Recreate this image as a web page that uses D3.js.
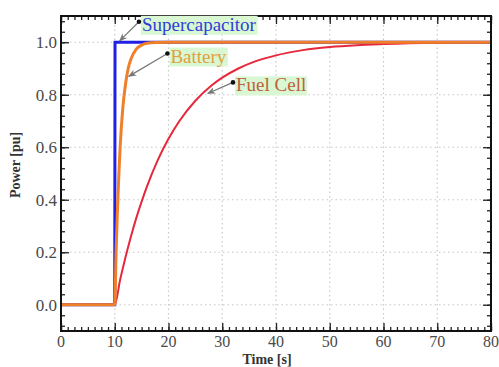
<!DOCTYPE html>
<meta charset="utf-8">
<style>
    body { margin: 0; background: #fff; }
    text { font-family: "Liberation Serif", "Times New Roman", serif; }
</style>
<body>
<script src="https://cdn.jsdelivr.net/npm/d3@7"></script>
<script>

    // values
    var xTicks = [0, 10, 20, 30, 40, 50, 60, 70, 80],
        yTicks = [0.0, 0.2, 0.4, 0.6, 0.8, 1.0];

    var scTime  = [0, 10, 10.05, 80],
        scPower = [0, 0, 1, 1];

    var batTime  = [0, 10, 10.25, 10.5, 10.75, 11, 11.5, 12, 12.5, 13, 14, 15, 16, 18, 20, 80],
        batPower = [0, 0, 0.20, 0.36, 0.49, 0.60, 0.75, 0.84, 0.90, 0.935, 0.974, 0.989, 0.996, 0.999, 1, 1];

    var fcTime  = [0, 10, 11, 12, 13, 14, 15, 16, 18, 20, 22, 25, 28, 30, 33, 36, 40, 45, 50, 55, 60, 70, 80],
        fcPower = [0, 0, 0.095, 0.181, 0.259, 0.33, 0.393, 0.451, 0.551, 0.632, 0.699, 0.777, 0.835, 0.865, 0.90, 0.926, 0.95, 0.97, 0.982, 0.989, 0.993, 0.998, 1];

    var labels = [
        {name: "Supercapacitor", color: "#2f3fd6", dot: [14.5, 1.078], tip: [10.9, 1.005]},
        {name: "Battery", color: "#e0a040", dot: [19.8, 0.957], tip: [12.6, 0.87]},
        {name: "Fuel Cell", color: "#c0603a", dot: [32.0, 0.847], tip: [27.3, 0.805]}
    ];

    var width = 499, height = 367,
        margin = {top: 16, right: 8, bottom: 36, left: 61};

    var svg = d3.select("body").append("svg")
        .attr("width", width)
        .attr("height", height);

    var x = d3.scaleLinear().domain([0, 80]).range([margin.left, width - margin.right]);
    var y = d3.scaleLinear().domain([-0.1, 1.1]).range([height - margin.bottom, margin.top]);

    var x0 = x.range()[0], x1 = x.range()[1], y0 = y.range()[0], y1 = y.range()[1];

    // grid
    svg.append("g").selectAll("line")
        .data(xTicks.slice(1, -1))
        .enter().append("line")
        .attr("x1", function(d) { return x(d); }).attr("x2", function(d) { return x(d); })
        .attr("y1", y1).attr("y2", y0)
        .attr("stroke", "#c8c8c8").attr("stroke-width", 1.2).attr("stroke-dasharray", "1.5,3");

    svg.append("g").selectAll("line")
        .data(yTicks)
        .enter().append("line")
        .attr("x1", x0).attr("x2", x1)
        .attr("y1", function(d) { return y(d); }).attr("y2", function(d) { return y(d); })
        .attr("stroke", "#c8c8c8").attr("stroke-width", 1.2).attr("stroke-dasharray", "1.5,3");

    // axes with inward ticks
    var xMinor = d3.range(0, 80.01, 1.25),
        yMinor = d3.range(-0.08, 1.1, 0.04);

    function tickAxis(axis, ticks, size) {
        return axis.tickValues(ticks).tickSize(size).tickFormat("");
    }

    svg.append("g").attr("transform", "translate(0," + y0 + ")").call(tickAxis(d3.axisTop(x), xMinor, 4));
    svg.append("g").attr("transform", "translate(0," + y0 + ")").call(tickAxis(d3.axisTop(x), xTicks, 8));
    svg.append("g").attr("transform", "translate(0," + y1 + ")").call(tickAxis(d3.axisBottom(x), xMinor, 4));
    svg.append("g").attr("transform", "translate(0," + y1 + ")").call(tickAxis(d3.axisBottom(x), xTicks, 8));
    svg.append("g").attr("transform", "translate(" + x0 + ",0)").call(tickAxis(d3.axisRight(y), yMinor, 4));
    svg.append("g").attr("transform", "translate(" + x0 + ",0)").call(tickAxis(d3.axisRight(y), yTicks, 8));
    svg.append("g").attr("transform", "translate(" + x1 + ",0)").call(tickAxis(d3.axisLeft(y), yMinor, 4));
    svg.append("g").attr("transform", "translate(" + x1 + ",0)").call(tickAxis(d3.axisLeft(y), yTicks, 8));

    svg.selectAll(".domain").remove();
    svg.selectAll(".tick line").attr("stroke", "#222").attr("stroke-width", 1.3);

    // tick labels
    svg.append("g").selectAll("text")
        .data(xTicks)
        .enter().append("text")
        .attr("x", function(d) { return x(d); })
        .attr("y", y0 + 16)
        .attr("text-anchor", "middle")
        .attr("font-size", 16)
        .attr("fill", "#4a4a4a")
        .text(function(d) { return d; });

    svg.append("g").selectAll("text")
        .data(yTicks)
        .enter().append("text")
        .attr("x", x0 - 4)
        .attr("y", function(d) { return y(d); })
        .attr("dy", "0.35em")
        .attr("text-anchor", "end")
        .attr("font-size", 17)
        .attr("fill", "#4a4a4a")
        .text(function(d) { return d.toFixed(1); });

    // axis titles
    svg.append("text")
        .attr("transform", "translate(20,165) rotate(-90)")
        .attr("text-anchor", "middle")
        .attr("font-size", 14)
        .attr("font-weight", "bold")
        .attr("fill", "#333")
        .text("Power [pu]");

    svg.append("text")
        .attr("x", 267)
        .attr("y", 364)
        .attr("text-anchor", "middle")
        .attr("font-size", 14)
        .attr("font-weight", "bold")
        .attr("fill", "#333")
        .text("Time [s]");

    // curves
    var line = d3.line()
        .x(function(d) { return x(d[0]); })
        .y(function(d) { return y(d[1]); });

    function zip(t, p) { return t.map(function(v, i) { return [v, p[i]]; }); }

    svg.append("path").datum(zip(scTime, scPower))
        .attr("d", line).attr("fill", "none")
        .attr("stroke", "#1f1fe6").attr("stroke-width", 3);

    svg.append("path").datum(zip(fcTime, fcPower))
        .attr("d", line.curve(d3.curveMonotoneX)).attr("fill", "none")
        .attr("stroke", "#e6283c").attr("stroke-width", 2);

    svg.append("path").datum(zip(batTime, batPower))
        .attr("d", line.curve(d3.curveMonotoneX)).attr("fill", "none")
        .attr("stroke", "#f07f2a").attr("stroke-width", 3);

    // frame
    svg.append("rect")
        .attr("x", x0).attr("y", y1)
        .attr("width", x1 - x0).attr("height", y0 - y1)
        .attr("fill", "none").attr("stroke", "#111").attr("stroke-width", 2);

    // annotations
    svg.append("defs").append("marker")
        .attr("id", "arrow")
        .attr("viewBox", "0 0 10 10")
        .attr("refX", 9).attr("refY", 5)
        .attr("markerWidth", 7).attr("markerHeight", 7)
        .attr("orient", "auto")
        .append("path")
        .attr("d", "M0,1 L10,5 L0,9 L3,5 Z")
        .attr("fill", "#777");

    var ann = svg.append("g").selectAll("g")
        .data(labels)
        .enter().append("g");

    ann.append("line")
        .attr("x1", function(d) { return x(d.dot[0]); })
        .attr("y1", function(d) { return y(d.dot[1]); })
        .attr("x2", function(d) { return x(d.tip[0]); })
        .attr("y2", function(d) { return y(d.tip[1]); })
        .attr("stroke", "#777").attr("stroke-width", 1.2)
        .attr("marker-end", "url(#arrow)");

    var txt = ann.append("text")
        .attr("x", function(d) { return x(d.dot[0]) + 3; })
        .attr("y", function(d) { return y(d.dot[1]) + 9; })
        .attr("font-size", 19)
        .attr("fill", function(d) { return d.color; })
        .text(function(d) { return d.name; });

    txt.each(function() {
        var b = this.getBBox();
        d3.select(this.parentNode).insert("rect", "text")
            .attr("x", b.x - 1).attr("y", b.y + 2)
            .attr("width", b.width + 2).attr("height", b.height - 2)
            .attr("fill", "#d9f7d2");
    });

    ann.append("circle")
        .attr("cx", function(d) { return x(d.dot[0]); })
        .attr("cy", function(d) { return y(d.dot[1]); })
        .attr("r", 2.3)
        .attr("fill", "#111");

</script>
